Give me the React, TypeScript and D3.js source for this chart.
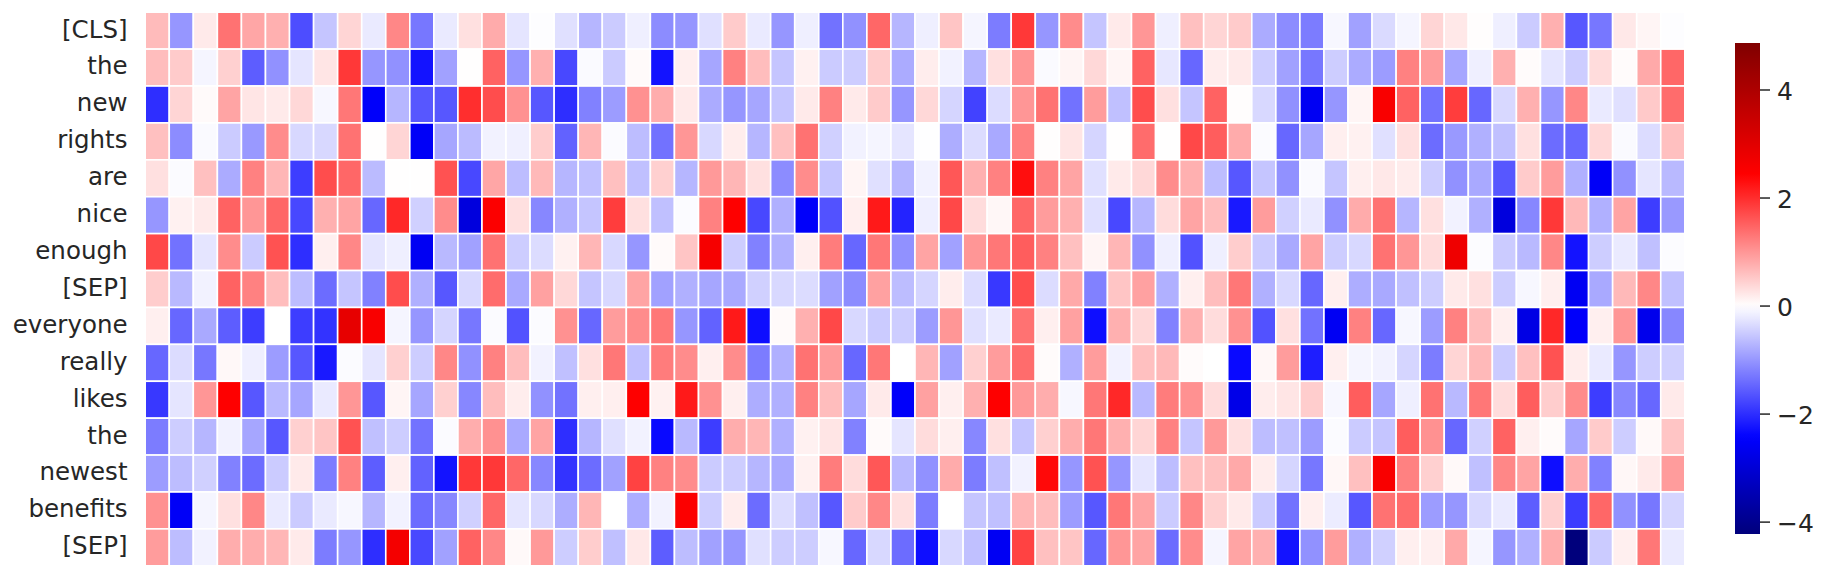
import React from "react";
import * as d3 from "d3";

const tokens = ["[CLS]","the","new","rights","are","nice","enough","[SEP]","everyone","really","likes","the","newest","benefits","[SEP]"];

const rowCls = [.65,-1,.2,1.35,.85,.75,-1.7,-.55,.4,-.2,1.15,-1.3,-.2,.3,.8,-.25,-.02,-.3,-.7,-.5,-.15,-1.1,-1,-.3,.5,-.2,-1,-.15,-1.35,-1.05,1.45,-.7,-.15,.55,-.1,-1.25,1.9,-1,1.1,-.55,.2,1,-.15,.6,.4,.5,-.8,-1.1,-1.25,-.08,-.9,-.35,-.1,.4,.22,.02,-.15,-.5,.75,-1.6,-1.3,.22,.1,-.02];
const rowThe1 = [.63,.5,-.1,.45,-1.55,-1.05,-.25,.25,1.9,-1,-1.05,-2.25,-.9,.01,1.5,-1,.75,-1.75,-.05,-.5,.05,-2.25,.15,-.85,1.2,.63,-.55,.13,-.5,-.48,.48,-.8,.17,-.12,-.7,.3,1,-.05,.1,.37,.1,1.5,-.23,-1.45,.17,.2,-.48,-.9,-1.3,-.48,-.8,-.95,1.2,.95,-.85,-.15,.75,.04,-.25,-.48,.33,.04,.82,1.45];
const rowNew = [-2,.4,.05,.87,.25,.2,.37,-.08,1.3,-2.5,-.7,-1.6,-1.6,2,1.7,1.05,-1.6,-2,-1.2,-.95,1.05,.78,.2,-.8,-1,-.85,-.55,.2,1.2,.2,.5,-1,.37,-.4,-1.8,-.33,1,1.35,-1.35,.95,-.6,1.7,.3,-.55,1.5,.02,-.37,-1.05,-2.6,-1,.1,2.55,1.5,-1.35,1.85,-1.45,-.37,.75,-1,1.15,-.2,-.3,.52,1.4];
const rowRights = [.6,-1.1,-.05,-.5,-.97,1.1,-.37,-.37,1.35,.01,.4,-2.55,-.85,-.65,-.12,-.14,.48,-1.5,.7,-.04,-.63,-1.35,1,-.37,.17,-.7,.6,1.35,-.45,-.12,-.1,-.25,-.01,-.78,-.33,-.82,1.2,.02,.25,-.4,.01,1.4,.01,1.75,1.55,.8,-.04,-1.45,-.85,.15,.13,-.3,.3,-1.4,-.97,-.75,-.6,.3,-1.4,-1.45,.37,-.05,-.33,.6];
const rowAre = [.3,-.04,.6,-.8,1.2,.7,-1.85,1.7,1.45,-.65,.01,.01,1.65,-1.75,.85,-.63,.67,-.7,-.6,.6,-.6,.45,-.7,.97,.7,.3,-1.1,1.1,-.55,.1,-.3,-.7,-.12,1.6,.75,1.2,2.3,1.2,.87,-.3,.2,.37,1.1,.75,-.63,-1.6,-.55,-1.05,-.05,-.55,.15,.22,.18,-.48,-1.05,-.82,-1.6,.5,.95,-.75,-2.55,-1.05,-.25,-.67];
const rowNice = [-1,.13,.2,1.5,1,1.45,-1.75,.75,.87,-1.45,2.05,-.45,1.1,-2.9,2.5,.3,-1.15,-.75,-.55,1.85,.3,-.6,-.04,1.2,2.45,-1.75,-.75,-2.5,-1.65,.15,2.2,-2.1,-.15,1.75,.33,.08,1.45,.95,.75,-.3,-1.75,-.7,.33,.87,.63,-2.2,.95,-.45,-.2,-1.05,.8,1.35,-.7,.3,-.12,-.75,-2.9,-1.15,1.9,.67,-.75,.87,-1.85,-.97];
const rowEnough = [1.75,-1.35,-.25,1.1,-.5,1.65,-2,.15,1.15,-.25,-.15,-2.6,-.67,-.9,1.35,-.48,-.33,.13,.7,-.37,-1,.05,.55,2.6,-.48,-1.2,-.75,.15,1.25,-1.45,1.3,-1.05,.87,-.9,1,1.3,1.55,1.2,.6,.1,.7,-1.05,-.15,-1.65,-.15,.48,-.5,-.82,.87,-.48,-.37,1.35,1,.33,2.75,-.03,-.5,-.67,1.15,-2.25,-.48,-.2,-.6,-.03];
const rowSep1 = [.48,-.67,-.12,1.5,1.2,.63,-.63,-1.4,-.55,-1.2,1.7,-.75,-1.6,-.37,1.4,-.82,.9,.37,-.55,-.37,.87,-.9,-.75,-.85,-.82,-.45,-.37,-.33,-.9,-1.1,.9,-.63,-.4,.17,-.33,-1.9,1.7,-.33,.82,-1.2,.55,.9,-.75,.15,.63,1.3,-.75,-.37,-1.45,.15,-.78,-.82,-.6,-.48,.2,.3,-.48,-.08,.15,-2.6,-.82,.67,1.15,-.6];
const rowEveryone = [.15,-1.45,-.82,-1.55,-1.85,0,-1.85,-1.95,2.9,2.55,-.1,-1,-.4,-1.3,-.04,-1.65,-.04,1.05,-1.45,.95,1.1,1.3,-1,-1.5,2.2,-2.3,.05,.75,1.75,-.37,-.5,-.48,-.95,1,-.3,-.2,1.35,.15,.9,-2.3,.75,.37,-1.2,.75,.33,1.05,-1.65,.3,-1.35,-2.6,1.2,-1.45,-.08,-.95,1.2,.63,.15,-2.8,2.05,-2.5,.15,1,-2.7,-1.15];
const rowReally = [-1.45,-.33,-1.3,.07,-.15,-.95,-1.6,-2.2,-.04,-.25,.45,-.48,1.15,-1.05,1.2,.63,-.12,-.6,.3,1.3,-.6,1.25,1.1,.15,1.1,-1.25,-.75,1.35,.95,-1.45,1.3,0,.7,-.9,.45,.95,1.4,.04,-.75,.95,-.12,.6,.67,.04,0,-2.35,.08,.95,-2.15,.15,-.1,-.12,-.4,-1.25,.4,.67,-.5,.6,1.65,.17,-.2,-1,-.48,-.45];
const rowLikes = [-1.9,-.25,1,2.45,-1.6,-.67,-.85,-.2,1,-1.6,.1,-.85,.45,-1.15,.63,.17,-1.05,-1.35,.15,.15,2.45,.13,2.2,1.05,.15,-.78,-.75,1.2,.63,-.85,.2,-2.5,.9,.15,.75,2.45,.97,.78,-.08,1.3,2.05,-.67,1.25,1.05,.33,-2.75,.17,.25,.48,-.08,1.55,-.85,-.15,1.35,-.67,1.3,.33,1.55,.48,1.1,-1.85,-1.15,-1.45,.2];
const rowThe2 = [-1.25,-.48,-.7,-.12,-.85,-1.6,.45,.55,1.65,-.6,-.48,-1.35,-.04,.78,1.05,-.82,.87,-2,-.7,-.3,-.12,-2.35,-.67,-1.85,.78,.7,-.75,.13,.25,-1.2,.05,-.25,.33,.15,-1.15,.3,-.55,.45,.78,1.3,.75,.4,1.2,-.55,.97,.3,-.63,-.6,-.95,-.04,-.5,-.55,1.55,1.05,-1.45,-.45,1.5,.15,.04,-.85,.5,-.48,.06,.55];
const rowNewest = [-.95,-.63,-.45,-1.2,-1.4,-.5,.2,-1.25,1.2,-1.55,.15,-1.5,-2.25,1.9,1.9,1.45,-1.15,-1.95,-1.4,-.9,1.8,1.2,1.1,-.5,-.48,-.7,-.82,.13,1.25,.33,1.6,-.67,-1.05,.8,-1.25,-.6,-.12,2.35,-1,1.65,-1,-.25,-.63,.6,.6,.82,.17,-.4,-1.3,.08,.6,2.55,1.2,.45,.06,-.6,1.15,.87,-2.3,.78,-1.2,.08,.2,.95];
const rowBenefits = [1.05,-2.55,-.1,.3,1.15,-.2,-.5,-.2,-.08,-.7,-.12,-1.4,-1.15,-.45,1.45,-.25,-.37,-.78,.7,0,-.78,-.12,2.5,-.48,.17,-1.4,-.33,-.6,-1.6,.5,1.15,.3,-1.25,0,-.55,-.6,.7,.63,-.95,-1.6,1.3,.87,-.5,1.15,.45,.2,-.5,-1.35,.15,-.18,-1.6,1.35,1.4,-.95,-1,-.37,-.2,-1.55,.45,-1.85,1.45,-1.05,-1.3,-.4];
const rowSep2 = [.95,-.63,-.12,.78,.78,.7,.2,-1.25,-1,-2,2.65,-1.75,-.9,1.5,1.15,.06,.97,-.48,.48,-.6,.22,-1.55,-.63,-.9,-1,-.3,-.48,-.48,-.08,-1.45,-.37,-1.4,-2.3,-.37,-.6,-2.6,1.8,.6,.55,-1.45,1,.87,-1.4,1.1,-.1,.87,.75,-2.25,-1.05,.95,-.75,-.45,.15,.15,.82,-.1,-1,-.75,.78,-4.22,-.5,.15,1.3,-.2];

const matrix = [rowCls,rowThe1,rowNew,rowRights,rowAre,rowNice,rowEnough,rowSep1,rowEveryone,rowReally,rowLikes,rowThe2,rowNewest,rowBenefits,rowSep2];
const cbTicks = [-4,-2,0,2,4];
const vMin = -4.22;
const vMax = 4.87;
const seismicStops = ["#00004c","#0000ff","#ffffff","#ff0000","#800000"];

const INK = "#262626";

export default function App() {
  const W = 1824, H = 578;
  const x = d3.scaleBand<number>().domain(d3.range(64)).range([145.2, 1684.8]);
  const y = d3.scaleBand<number>().domain(d3.range(tokens.length)).range([12.2, 565.8]);
  const color = d3.scaleLinear<string>()
    .domain([-vMax, -vMax / 2, 0, vMax / 2, vMax])
    .range(seismicStops);
  const cb = d3.scaleLinear().domain([vMin, vMax]).range([534, 43]);
  const gradSteps = d3.range(0, 65).map((i) => i / 64);
  return (
    <svg width={W} height={H} viewBox={`0 0 ${W} ${H}`}
      style={{ position: "absolute", left: 0, top: 0, display: "block", background: "#fff" }}
      fontFamily="'DejaVu Sans', sans-serif">
      <defs>
        <linearGradient id="cbGrad" x1="0" y1="1" x2="0" y2="0">
          {gradSteps.map((t) => (
            <stop key={t} offset={t} stopColor={color(vMin + t * (vMax - vMin))} />
          ))}
        </linearGradient>
      </defs>
      {matrix.map((row, r) =>
        row.map((v, c) => (
          <rect key={`${r}-${c}`} x={x(c)} y={y(r)} width={x.bandwidth()} height={y.bandwidth()}
            fill={color(v)} stroke="#fff" strokeWidth={1.6} />
        ))
      )}
      {tokens.map((t, r) => (
        <text key={r} x={127.5} y={y(r)! + y.bandwidth() / 2 - 1.7} dy="0.35em" textAnchor="end" fontSize={24.5} fill={INK}>{t}</text>
      ))}
      <rect x={1735} y={43} width={25} height={491} fill="url(#cbGrad)" />
      {cbTicks.map((t) => (
        <g key={t}>
          <line x1={1760} x2={1770} y1={cb(t)} y2={cb(t)} stroke={INK} strokeWidth={1.5} />
          <text x={1777} y={cb(t) + 1} dy="0.36em" fontSize={25} fill={INK}>{t < 0 ? `\u2212${-t}` : t}</text>
        </g>
      ))}
    </svg>
  );
}
